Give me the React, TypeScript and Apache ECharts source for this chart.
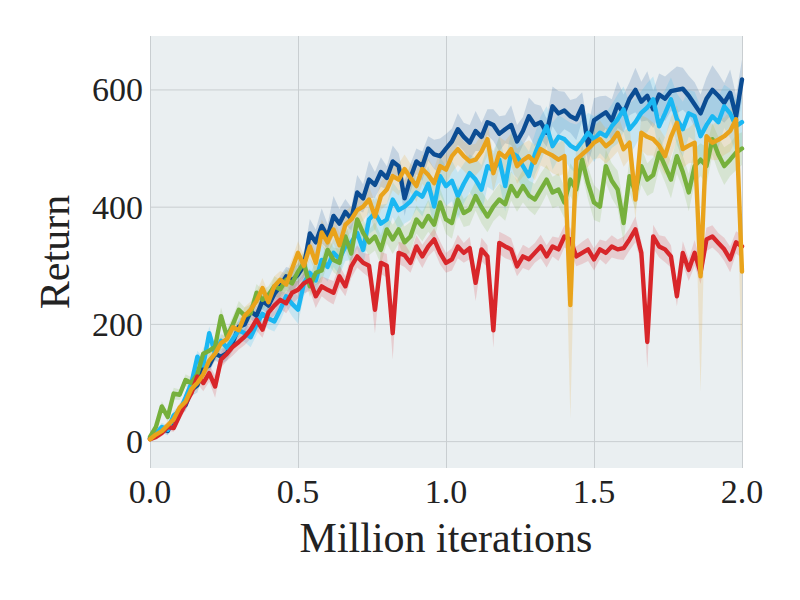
import React, { useEffect, useRef } from "react";
import * as echarts from "echarts";

const iterations = [
  0, 0.02, 0.04, 0.06, 0.08, 0.1, 0.12, 0.14, 0.16, 0.18,
  0.2, 0.22, 0.24, 0.26, 0.28, 0.3, 0.32, 0.34, 0.36, 0.38,
  0.4, 0.42, 0.44, 0.46, 0.48, 0.5, 0.52, 0.54, 0.56, 0.58,
  0.6, 0.62, 0.64, 0.66, 0.68, 0.7, 0.72, 0.74, 0.76, 0.78,
  0.8, 0.82, 0.84, 0.86, 0.88, 0.9, 0.92, 0.94, 0.96, 0.98,
  1.0, 1.02, 1.04, 1.06, 1.08, 1.1, 1.12, 1.14, 1.16, 1.18,
  1.2, 1.22, 1.24, 1.26, 1.28, 1.3, 1.32, 1.34, 1.36, 1.38,
  1.4, 1.42, 1.44, 1.46, 1.48, 1.5, 1.52, 1.54, 1.56, 1.58,
  1.6, 1.62, 1.64, 1.66, 1.68, 1.7, 1.72, 1.74, 1.76, 1.78,
  1.8, 1.82, 1.84, 1.86, 1.88, 1.9, 1.92, 1.94, 1.96, 1.98,
  2.0,
];

const blueReturn = [
  5, 10, 22, 18, 40, 55, 62, 88, 96, 125,
  130, 150, 145, 151, 170, 196, 200, 222, 215, 240,
  232, 252, 265, 282, 275, 285, 300, 355, 340, 368,
  350, 385, 372, 392, 380, 425, 415, 447, 438, 460,
  450, 478, 470, 415, 450, 478, 470, 500, 490, 487,
  500, 512, 533, 520, 510, 530, 520, 545, 540, 525,
  533, 540, 512, 530, 555, 540, 545, 527, 572, 560,
  565, 555, 550, 572, 505, 548, 555, 562, 548, 575,
  560, 585, 600, 580, 590, 567, 592, 585, 598, 600,
  602, 590, 575, 560, 585, 600, 590, 578, 595, 555,
  618,
];
const blueSpread = [
  4, 5, 7, 7, 8, 8, 10, 10, 12, 10,
  12, 11, 13, 12, 15, 13, 15, 13, 16, 15,
  16, 15, 18, 16, 20, 18, 20, 25, 22, 30,
  21, 34, 25, 22, 20, 30, 24, 32, 22, 25,
  20, 27, 22, 30, 24, 22, 25, 21, 25, 30,
  25, 22, 27, 24, 30, 34, 24, 22, 27, 30,
  24, 34, 28, 24, 32, 36, 28, 24, 34, 38,
  32, 28, 36, 24, 32, 38, 34, 28, 36, 40,
  32, 28, 38, 34, 42, 32, 36, 38, 34, 40,
  36, 34, 38, 32, 36, 42, 38, 34, 40, 36,
  34,
];

const cyanReturn = [
  6, 14, 25, 20, 45, 52, 75, 100, 145, 130,
  185, 150, 172, 160, 175, 190, 185, 178, 200, 218,
  210, 205, 225, 248, 235, 225, 270, 288, 275, 310,
  298, 322, 312, 333, 340, 356, 327, 379, 390, 372,
  379, 413, 395, 401, 410, 425, 418, 440, 401, 453,
  436, 445, 419, 440, 458, 447, 430, 470, 462, 481,
  436, 493, 487, 470, 453, 490, 516, 538, 504, 520,
  516, 505, 499, 512, 527, 516, 527, 521, 538, 550,
  567, 533, 545, 561, 570, 584, 538, 560, 584, 550,
  533, 560, 555, 521, 540, 555, 545, 572, 560, 538,
  545,
];
const cyanSpread = [
  4, 5, 7, 8, 8, 10, 9, 12, 10, 13,
  12, 14, 13, 15, 14, 17, 15, 17, 18, 15,
  18, 17, 20, 18, 21, 24, 21, 25, 24, 27,
  25, 24, 28, 25, 30, 27, 29, 25, 28, 32,
  27, 30, 34, 29, 32, 28, 34, 30, 38, 32,
  34, 35, 40, 34, 32, 37, 42, 35, 34, 39,
  44, 34, 37, 40, 42, 35, 39, 34, 40, 37,
  35, 39, 42, 37, 34, 39, 35, 40, 37, 42,
  39, 44, 40, 37, 42, 39, 46, 40, 37, 44,
  47, 40, 42, 50, 39, 40, 44, 37, 42, 46,
  42,
];

const orangeReturn = [
  4, 12, 18, 28, 38, 58, 68, 90, 100, 115,
  138, 150, 168, 175, 195, 190, 215, 225, 240, 262,
  238, 265, 276, 268, 295, 322, 300, 333, 305, 357,
  340, 362, 335, 370, 379, 395, 401, 413, 384, 419,
  430, 453, 447, 465, 450, 436, 465, 455, 441, 470,
  464, 487, 499, 487, 478, 481, 495, 516, 458, 493,
  485, 499, 470, 480, 487, 476, 499, 493, 488, 481,
  487, 233, 481, 490, 499, 510, 516, 504, 512, 527,
  499, 510, 413, 527, 520, 516, 505, 487, 520, 544,
  499, 505, 510, 282, 521, 510, 515, 521, 530, 550,
  290,
];
const orangeSpread = [
  4, 5, 6, 7, 8, 8, 10, 9, 11, 10,
  12, 11, 13, 12, 14, 13, 15, 14, 15, 17,
  15, 17, 15, 18, 17, 20, 18, 21, 18, 22,
  20, 24, 21, 24, 22, 25, 24, 22, 25, 24,
  25, 24, 27, 25, 24, 27, 25, 28, 25, 27,
  25, 28, 27, 25, 28, 27, 30, 28, 32, 27,
  28, 27, 30, 28, 27, 30, 28, 27, 30, 28,
  30, 18, 28, 27, 30, 28, 32, 30, 28, 32,
  30, 28, 34, 30, 32, 28, 30, 32, 34, 30,
  32, 30, 34, 18, 32, 30, 34, 32, 35, 34,
  18,
];
const orangeDipLow = [
  [1.42, 40],
  [1.86, 85],
  [2.0, 100],
];

const greenReturn = [
  8, 25, 60, 42, 82, 80, 105, 100, 115, 150,
  155, 162, 214, 179, 200, 225, 215, 219, 254, 242,
  250, 265, 260, 276, 270, 290, 305, 265, 288, 292,
  327, 310, 305, 350, 321, 379, 356, 340, 350, 327,
  362, 345, 362, 340, 350, 379, 367, 385, 370, 408,
  379, 373, 413, 390, 396, 419, 400, 384, 401, 413,
  405, 436, 419, 436, 420, 413, 430, 447, 425, 430,
  408, 447, 430, 481, 440, 408, 401, 470, 445, 430,
  373, 453, 425, 470, 447, 455, 493, 470, 447, 487,
  460, 425, 470, 481, 470, 516, 490, 470, 481, 493,
  500,
];
const greenSpread = [
  5, 7, 9, 8, 10, 9, 10, 10, 12, 10,
  13, 12, 15, 13, 14, 15, 14, 15, 15, 17,
  15, 17, 16, 18, 17, 18, 20, 18, 21, 20,
  22, 21, 24, 22, 21, 24, 23, 22, 24, 25,
  24, 25, 24, 27, 25, 24, 25, 27, 25, 24,
  25, 27, 25, 24, 27, 25, 28, 27, 25, 27,
  28, 25, 27, 28, 25, 27, 28, 25, 27, 28,
  27, 28, 30, 25, 28, 30, 27, 28, 30, 32,
  34, 28, 30, 32, 28, 30, 27, 28, 32, 30,
  28, 32, 30, 28, 32, 27, 30, 32, 28, 30,
  28,
];

const redReturn = [
  4, 8, 15, 25, 23, 45, 65, 83, 111, 100,
  117, 94, 140, 150, 162, 170, 179, 191, 208, 191,
  220, 232, 242, 236, 254, 259, 270, 276, 248, 265,
  259, 254, 282, 265, 299, 316, 305, 300, 225, 305,
  300, 185, 322, 318, 305, 333, 316, 333, 345, 322,
  305, 311, 333, 322, 330, 271, 328, 316, 190, 339,
  333, 328, 299, 316, 311, 322, 333, 316, 333, 328,
  350, 345, 316, 322, 328, 311, 328, 322, 333, 328,
  330, 345, 362, 322, 170, 350, 333, 328, 316, 248,
  322, 293, 322, 288, 345, 350, 339, 328, 311, 340,
  333,
];
const redSpread = [
  4, 5, 6, 7, 6, 9, 10, 9, 12, 14,
  15, 19, 14, 12, 15, 13, 14, 15, 19, 14,
  15, 17, 15, 17, 19, 15, 17, 19, 20, 17,
  19, 20, 19, 17, 20, 19, 17, 20, 17, 19,
  20, 17, 19, 20, 17, 19, 20, 17, 19, 20,
  17, 19, 20, 17, 19, 17, 20, 19, 17, 19,
  20, 19, 17, 20, 19, 17, 20, 19, 17, 20,
  19, 20, 17, 19, 20, 19, 17, 20, 19, 17,
  20, 19, 22, 19, 17, 20, 19, 22, 19, 17,
  20, 19, 22, 19, 20, 19, 17, 20, 22, 19,
  20,
];
const redDipLow = [
  [0.76, 185],
  [0.82, 140],
  [1.1, 240],
  [1.16, 160],
  [1.68, 125],
];

const yTicks = [0, 200, 400, 600];
const xTicks = [0, 0.5, 1.0, 1.5, 2.0];

const FONT = "'Liberation Serif', 'DejaVu Serif', serif";
const TEXT = "#222222";
const GRID = "#C9CED1";

type Run = {
  name: string;
  mean: number[];
  spread: number[];
  dips: number[][];
  color: string;
};

const runs: Run[] = [
  { name: "A", mean: blueReturn, spread: blueSpread, dips: [], color: "#0B4C93" },
  { name: "B", mean: cyanReturn, spread: cyanSpread, dips: [], color: "#1AB7F2" },
  { name: "C", mean: greenReturn, spread: greenSpread, dips: [], color: "#76B03C" },
  { name: "D", mean: redReturn, spread: redSpread, dips: redDipLow, color: "#D8262A" },
  { name: "E", mean: orangeReturn, spread: orangeSpread, dips: orangeDipLow, color: "#E9A31B" },
];

function bandSeries(run: Run) {
  const upper = run.mean.map((v, i) => v + run.spread[i]);
  const lower = run.mean.map((v, i) => {
    const d = run.dips.find((p) => Math.abs(p[0] - iterations[i]) < 1e-6);
    return d ? d[1] : v - run.spread[i];
  });
  return {
    type: "custom",
    name: run.name + " band",
    silent: true,
    z: 2,
    data: [[iterations[0], run.mean[0]]],
    encode: { x: 0, y: 1 },
    renderItem: (_params: any, api: any) => {
      const top = upper.map((v, i) => api.coord([iterations[i], v]));
      const bottom = lower.map((v, i) => api.coord([iterations[i], v])).reverse();
      return {
        type: "polygon",
        shape: { points: top.concat(bottom) },
        style: { fill: run.color, opacity: 0.17 },
      };
    },
  };
}

function lineSeries(run: Run) {
  return {
    type: "line",
    name: run.name,
    silent: true,
    z: 3,
    symbol: "none",
    showSymbol: false,
    data: iterations.map((x, i) => [x, run.mean[i]]),
    lineStyle: { color: run.color, width: 4.4, join: "round", cap: "round" },
    itemStyle: { color: run.color },
  };
}

const gridLineSeries = {
  type: "custom",
  name: "hgrid",
  silent: true,
  z: 1,
  data: yTicks.map((v) => [xTicks[0], v]),
  encode: { x: 0, y: 1 },
  renderItem: (_params: any, api: any) => {
    const v = api.value(1);
    const a = api.coord([xTicks[0], v]);
    const b = api.coord([xTicks[xTicks.length - 1], v]);
    return {
      type: "line",
      shape: { x1: a[0], y1: a[1], x2: b[0], y2: b[1] },
      style: { stroke: GRID, lineWidth: 1 },
    };
  },
};

export default function App() {
  const ref = useRef<HTMLDivElement>(null);
  useEffect(() => {
    document.body.style.margin = "0";
    const chart = echarts.init(ref.current!, undefined, { renderer: "svg" });
    chart.setOption({
      animation: false,
      backgroundColor: "#ffffff",
      grid: {
        left: 150,
        right: 58,
        top: 36,
        bottom: 132,
        show: true,
        backgroundColor: "#EAEFF1",
        borderWidth: 0,
        containLabel: false,
        outerBoundsMode: "none",
      },
      xAxis: {
        type: "value",
        min: 0,
        max: 2,
        interval: 0.5,
        axisLine: { show: false },
        axisTick: { show: false },
        axisLabel: {
          formatter: (v: number) => v.toFixed(1),
          fontFamily: FONT,
          fontSize: 34,
          color: TEXT,
          margin: 6,
        },
        splitLine: { show: true, lineStyle: { color: GRID, width: 1 } },
        name: "Million iterations",
        nameLocation: "middle",
        nameGap: 49,
        nameTextStyle: { fontFamily: FONT, fontSize: 42, color: TEXT },
      },
      yAxis: {
        type: "value",
        min: -45,
        max: 692,
        axisLine: { show: false },
        axisTick: { show: false },
        splitLine: { show: false },
        axisLabel: {
          customValues: yTicks,
          fontFamily: FONT,
          fontSize: 34,
          color: TEXT,
          margin: 7,
        },
        name: "Return",
        nameLocation: "middle",
        nameGap: 74,
        nameTextStyle: { fontFamily: FONT, fontSize: 42, color: TEXT },
      },
      series: [
        gridLineSeries,
        ...runs.map(bandSeries),
        ...runs.map(lineSeries),
      ],
    });
    return () => chart.dispose();
  }, []);
  return (
    <div
      ref={ref}
      style={{ position: "absolute", left: 0, top: 0, width: 800, height: 600 }}
    />
  );
}
